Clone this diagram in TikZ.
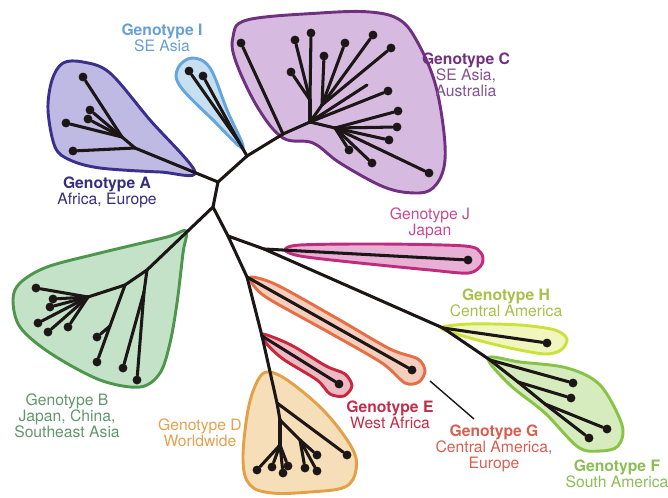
\documentclass[tikz,border=0pt]{standalone}
\usepackage{fontspec}
\setmainfont{TeX Gyre Heros}
\definecolor{treeink}{RGB}{28,22,22}
\definecolor{lineA}{RGB}{58,48,140}  \definecolor{fillA}{RGB}{190,186,228} \definecolor{textA}{RGB}{55,45,125}
\definecolor{lineI}{RGB}{100,165,220} \definecolor{fillI}{RGB}{198,224,242} \definecolor{textI}{RGB}{105,160,210}
\definecolor{lineC}{RGB}{112,48,128} \definecolor{fillC}{RGB}{214,186,224} \definecolor{textC}{RGB}{130,85,145}
\definecolor{lineJ}{RGB}{190,45,125} \definecolor{fillJ}{RGB}{232,176,212} \definecolor{textJ}{RGB}{200,75,145}
\definecolor{lineH}{RGB}{205,225,60} \definecolor{fillH}{RGB}{240,246,190} \definecolor{textH}{RGB}{170,190,75}
\definecolor{lineF}{RGB}{135,195,70} \definecolor{fillF}{RGB}{214,236,190} \definecolor{textF}{RGB}{140,190,85}
\definecolor{lineG}{RGB}{228,110,70} \definecolor{fillG}{RGB}{246,206,190} \definecolor{textG}{RGB}{215,95,80}
\definecolor{lineE}{RGB}{200,40,60}  \definecolor{fillE}{RGB}{238,185,195} \definecolor{textE}{RGB}{195,45,75}
\definecolor{lineD}{RGB}{228,160,70} \definecolor{fillD}{RGB}{246,222,184} \definecolor{textD}{RGB}{230,160,80}
\definecolor{lineB}{RGB}{78,150,78}  \definecolor{fillB}{RGB}{196,226,200} \definecolor{textB}{RGB}{100,150,110}
\tikzset{
  branch/.style={draw=treeink,line width=2.6pt,line cap=round,line join=round},
  leaf/.style={circle,fill=treeink,inner sep=0pt,minimum size=7.6pt},
  blob/.style={line width=2.5pt,line join=round},
  gtlabel/.style={align=center,inner sep=0pt,font=\fontsize{13.4}{13.7}\selectfont},
}
\begin{document}
\begin{tikzpicture}[x=0.03cm,y=-0.03cm]
  \useasboundingbox (0,0) rectangle (668,497);
  % clade outlines
  \filldraw[blob,draw=lineC,fill=fillC] plot[smooth cycle,tension=.6] coordinates {(283,138) (258,108) (236,62) (233,37) (247,20) (320,13) (370,12) (400,20) (418,43) (435,83) (444,133) (444,167) (433,188) (415,193) (384,187) (340,163) (313,143)};
  \filldraw[blob,draw=lineA,fill=fillA] plot[smooth cycle,tension=.55] coordinates {(195,172) (150,120) (110,73) (83,62) (63,63) (52,80) (48,110) (55,147) (70,160) (100,168) (160,172)};
  \filldraw[blob,draw=lineI,fill=fillI] plot[smooth cycle,tension=.6] coordinates {(243,148) (227,110) (210,68) (192,58) (178,68) (180,86) (213,120)};
  \filldraw[blob,draw=lineB,fill=fillB] plot[smooth cycle,tension=.55] coordinates {(186,231) (167,237) (100,253) (47,267) (20,283) (13,300) (20,327) (50,353) (100,380) (140,387) (160,373) (170,343) (177,303) (183,253)};
  \filldraw[blob,draw=lineJ,fill=fillJ] plot[smooth cycle,tension=.5] coordinates {(285,250) (300,245) (380,244) (465,246) (481,253) (482,264) (469,273) (430,270) (350,262) (300,256)};
  \filldraw[blob,draw=lineH,fill=fillH] plot[smooth cycle,tension=.5] coordinates {(441,328) (470,324) (520,325) (555,330) (567,339) (561,350) (545,354) (510,348) (470,338)};
  \filldraw[blob,draw=lineF,fill=fillF] plot[smooth cycle,tension=.55] coordinates {(488,358) (520,362) (567,368) (600,385) (622,425) (618,446) (600,451) (578,447) (545,413) (510,385)};
  \filldraw[blob,draw=lineG,fill=fillG] plot[smooth cycle,tension=.5] coordinates {(251,277) (277,285) (338,319) (390,349) (418,359) (425,371) (419,382) (405,383) (382,363) (330,333) (269,299) (254,286)};
  \filldraw[blob,draw=lineE,fill=fillE] plot[smooth cycle,tension=.5] coordinates {(263,334) (291,345) (326,366) (345,374) (352,386) (344,396) (330,394) (317,380) (283,359) (266,343)};
  \filldraw[blob,draw=lineD,fill=fillD] plot[smooth cycle,tension=.6] coordinates {(269,372) (290,382) (325,412) (352,448) (356,470) (345,487) (310,492) (272,493) (250,485) (243,460) (248,410) (258,380)};
  % backbone
  \coordinate (rA) at (218,182);
  \coordinate (rB) at (213,207);
  \coordinate (kI) at (247,156);
  \coordinate (rI) at (239,142);
  \coordinate (rC) at (283,134);
  \coordinate (rL) at (228,236);
  \coordinate (kJ) at (264,249);
  \coordinate (kH) at (443,328);
  \coordinate (rF) at (490,360);
  \coordinate (kG) at (247,277);
  \coordinate (kE) at (262,336);
  % inner splits
  \foreach \n/\x/\y in {a1/135/148,a2/122/137,c1/310/122,c2/310/100,c3/322/105,c4/335/128,cx/367/85,
      f1/518/382,f2/545/404,d1/277/403,d2/280/420,d3/300/440,d4/280/445,
      b1/147/270,b2/144/292,b3/125/285,b4/110/326,b5/88/297}
    \coordinate (\n) at (\x,\y);
  % tips
  \foreach \n/\x/\y in {A1/83/77,A2/90/110,A3/88/119,A4/66/123,A5/73/151,I1/189/71,I2/203/76,
      C0/241/43,C1/295/40,C2/311/33,C3/324/56,C4/345/43,C5/373/35,C6/391/48,C7/291/72,
      C8/388/91,C9/398/111,C10/397/127,C11/389/140,C12/372/163,C13/349/150,C14/429/173,
      J1/468/260,H1/547/343,F1/573/383,F2/571/398,F3/607/429,F4/589/438,G1/412/370,E1/339/384,
      D1/347/455,D2/317/455,D3/317/471,D4/305/468,D5/257/470,D6/272/467,D7/283/473,D8/288/466,
      B1/36/288,B2/53/299,B3/50/307,B4/38/323,B5/48/332,B6/68/327,B7/97/337,B8/97/362,B9/123/368,B10/137/380}
    \node[leaf] (\n) at (\x,\y) {};
  \foreach \a/\b in {rA/kI,kI/rC,kI/rI,rA/rB,rB/rL,rL/kJ,kJ/kH,kH/rF,rL/kG,kG/kE,kE/d1,
      rA/a1,a1/A5,a1/a2,a2/A1,a2/A2,a2/A3,a2/A4,rI/I1,rI/I2,
      rC/C0,rC/c1,c1/c2,c2/C1,c2/C2,c2/C7,c1/c3,c3/C3,c3/C4,c3/C5,c3/C6,c1/cx,c1/C8,
      c1/c4,c4/C9,c4/C10,c4/C11,c4/C12,c4/C13,c4/C14,
      kJ/J1,kH/H1,rF/F1,rF/f1,f1/F2,f1/f2,f2/F3,f2/F4,kG/G1,kE/E1,
      d1/D1,d1/d2,d2/d3,d3/D2,d3/D3,d3/D4,d2/d4,d4/D5,d4/D6,d4/D7,d4/D8,
      rB/b1,b1/b2,b2/B10,b2/B9,b1/b3,b3/b4,b4/B8,b4/B7,b3/b5,
      b5/B1,b5/B2,b5/B3,b5/B4,b5/B5,b5/B6}
    \draw[branch] (\a) -- (\b);
  % labels
  \node[gtlabel,text=textI] (labI) at (162,38) {\textbf{Genotype I}\\SE Asia};
  \node[gtlabel,text=textA] (labA) at (107,192) {\textbf{Genotype A}\\Africa, Europe};
  \node[gtlabel,text=textC] (labC) at (466,75) {\textbf{\color{lineC}Genotype C}\\SE Asia,\\Australia};
  \node[gtlabel,text=textJ] (labJ) at (430,223) {Genotype J\\Japan};
  \node[gtlabel,text=textH] (labH) at (506,303) {\textbf{Genotype H}\\Central America};
  \node[gtlabel,text=textB] (labB) at (67,416) {Genotype B\\Japan, China,\\Southeast Asia};
  \node[gtlabel,text=textD] (labD) at (200,433) {Genotype D\\Worldwide};
  \node[gtlabel,text=textE] (labE) at (390,415) {\textbf{Genotype E}\\West Africa};
  \node[gtlabel,text=textG] (labG) at (494,448) {\textbf{Genotype G}\\Central America,\\Europe};
  \node[gtlabel,text=textF] (labF) at (617,474) {\textbf{Genotype F}\\South America};
  \coordinate (gtop) at (430,381);
  \coordinate (gbot) at (474,419);
  \draw[treeink,line width=1.2pt] (gtop) -- (gbot);
\end{tikzpicture}
\end{document}
